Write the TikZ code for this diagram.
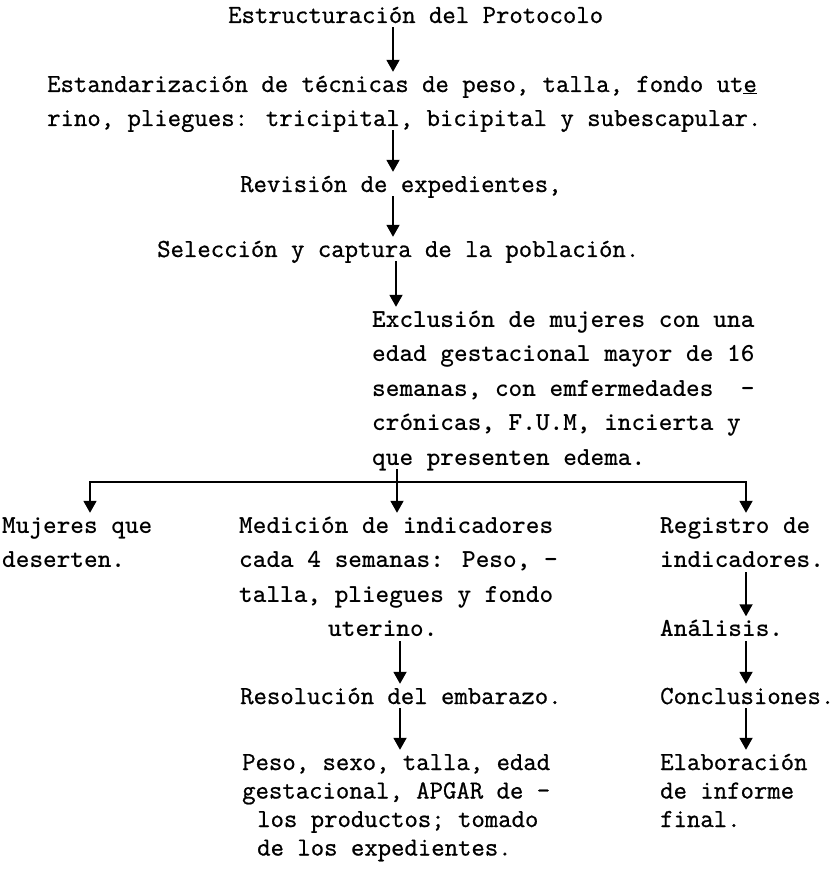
\documentclass[tikz,border=0pt]{standalone}
\usepackage{fontspec}
\newfontfamily\twfont{Latin Modern Mono}[FakeBold=0.8]
\usetikzlibrary{arrows.meta}
\begin{document}
\begin{tikzpicture}[x=1pt,y=-1pt,
  txt/.style={anchor=base west, inner sep=0pt, text height=20pt, text depth=5pt,
    font=\fontsize{26}{30}\selectfont\twfont},
  txtb/.style={txt, font=\fontsize{26}{30}\selectfont\ttfamily\bfseries},
  arr/.style={line width=1.8pt, line cap=rect, -{Triangle[width=13pt,length=12pt]}},
  ln/.style={line width=2pt, line cap=rect}]
\useasboundingbox (0,0) rectangle (838,874);
% column positions
\coordinate (c1) at (393,0);
\coordinate (c2) at (396,0);
\coordinate (cb) at (397,0);
\coordinate (cm) at (400,0);
\coordinate (cl) at (90,0);
\coordinate (cr) at (746,0);
\coordinate (hb) at (0,482);
% top section
\node[txt] (t)   at (228,23)  {Estructuración del Protocolo};
\node[txt] (s1)  at (47,92)   {Estandarización de técnicas de peso, talla, fondo ut\underline{e}};
\node[txt] (s2)  at (47,126)  {rino, pliegues: tricipital, bicipital y subescapular.};
\node[txt] (r)   at (240,192) {Revisión de expedientes,};
\node[txt] (sel) at (157,257) {Selección y captura de la población.};
% exclusion
\node[txtb] (ex1) at (372,327)   {Exclusión de mujeres con una};
\node[txtb] (ex2) at (372,361.5) {edad gestacional mayor de 16};
\node[txtb] (ex3) at (372,396)   {semanas, con emfermedades~~-};
\node[txtb] (ex4) at (372,430.5) {crónicas, F.U.M, incierta y};
\node[txtb] (ex5) at (372,465)   {que presenten edema.};
% left
\node[txtb] (m1) at (2,533)   {Mujeres que};
\node[txtb] (m2) at (2,567.5) {deserten.};
% middle
\node[txtb] (me1) at (239,533)   {Medición de indicadores};
\node[txtb] (me2) at (239,567.5) {cada 4 semanas: Peso, -};
\node[txtb] (me3) at (239,602)   {talla, pliegues y fondo};
\node[txtb] (me4) at (328,636.5) {uterino.};
\node[txt] (res) at (240,704)   {Resolución del embarazo.};
\node[txt] (p1)  at (242,770)   {Peso, sexo, talla, edad};
\node[txt] (p2)  at (242,798.5) {gestacional, APGAR de -};
\node[txt] (p3)  at (257,827)   {los productos; tomado};
\node[txt] (p4)  at (257,855.5) {de los expedientes.};
% right
\node[txtb] (rg1) at (660,533)   {Registro de};
\node[txtb] (rg2) at (660,567.5) {indicadores.};
\node[txtb] (an)  at (660,636.5) {Análisis.};
\node[txt] (co)  at (660,704)   {Conclusiones.};
\node[txt] (el1) at (660,770)   {Elaboración};
\node[txt] (el2) at (660,798.5) {de informe};
\node[txt] (el3) at (660,827)   {final.};
% connectors
\draw[arr] (t.south -| c1) -- (s1.north -| c1);
\draw[arr] (s2.south -| c1) -- (r.north -| c1);
\draw[arr] (r.south -| c1) -- (sel.north -| c1);
\draw[arr] (sel.south -| c2) -- (ex1.north -| c2);
\draw[ln] (cl |- hb) -- (cr |- hb);
\draw[arr] (cl |- hb) -- (m1.north -| cl);
\draw[arr] (cr |- hb) -- (rg1.north -| cr);
\draw[arr] (ex5.south -| cb) -- (me1.north -| cb);
\draw[arr] (me4.south -| cm) -- (res.north -| cm);
\draw[arr] (res.south -| cm) -- (p1.north -| cm);
\draw[arr] (rg2.south -| cr) -- (an.north -| cr);
\draw[arr] (an.south -| cr) -- (co.north -| cr);
\draw[arr] (co.south -| cr) -- (el1.north -| cr);
\end{tikzpicture}
\end{document}
